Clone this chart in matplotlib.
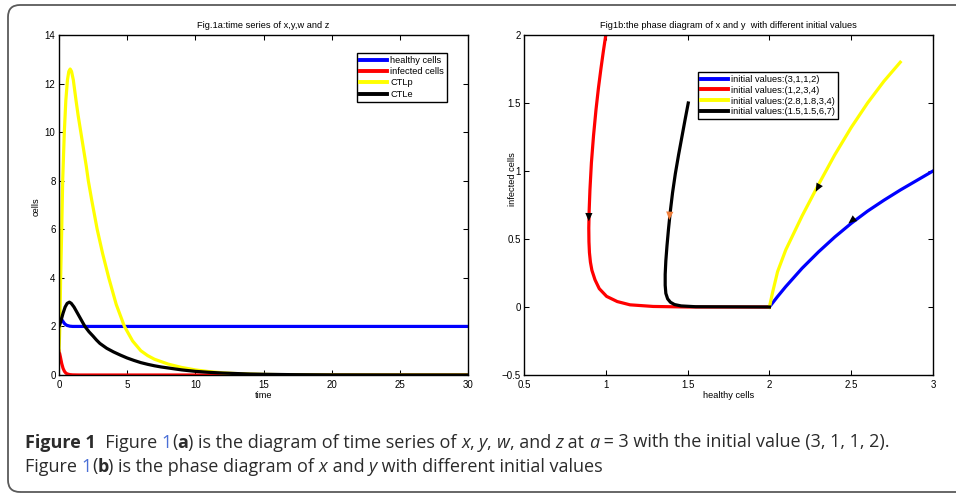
import matplotlib
matplotlib.use("Agg")
import matplotlib.pyplot as plt
from matplotlib.patches import FancyArrowPatch, FancyBboxPatch
from matplotlib.transforms import IdentityTransform
from matplotlib import font_manager

# ---------------- data ----------------
# Fig 1a: time series
t_healthy = [0, 0.05, 0.1, 0.15, 0.2, 0.3, 0.4, 0.5, 0.6, 0.8, 1.0, 1.5, 30]
healthy = [2.0, 2.2, 2.3, 2.31, 2.28, 2.2, 2.12, 2.07, 2.04, 2.01, 2.0, 2.0, 2.0]

t_infected = [0, 0.05, 0.1, 0.2, 0.3, 0.4, 0.5, 0.6, 0.8, 1.0, 1.5, 30]
infected = [1.0, 0.88, 0.75, 0.47, 0.27, 0.15, 0.08, 0.045, 0.015, 0.005, 0.0, 0.0]

t_ctlp = [0, 0.04, 0.07, 0.12, 0.2, 0.27, 0.39, 0.5, 0.62, 0.72, 0.82, 0.92, 1.05,
          1.25, 1.4, 1.6, 1.8, 2.0, 2.15, 2.4, 2.8, 3.2, 3.65, 4.2, 4.8, 5.4, 6.0,
          6.5, 7.0, 8.0, 9.0, 10.0, 11.0, 12.0, 13.0, 14.0, 15.0, 17.0, 20.0, 30.0]
ctlp = [1.0, 1.6, 2.2, 4.0, 6.0, 8.0, 10.0, 11.3, 12.15, 12.5, 12.6, 12.5, 12.15,
        11.3, 10.7, 10.0, 9.3, 8.6, 8.0, 7.2, 6.0, 5.0, 4.0, 2.9, 2.0, 1.4, 1.0,
        0.8, 0.65, 0.45, 0.31, 0.21, 0.14, 0.09, 0.06, 0.04, 0.025, 0.01, 0.003, 0.0]

t_ctle = [0, 0.1, 0.2, 0.3, 0.45, 0.6, 0.76, 0.9, 1.1, 1.4, 1.9, 2.2, 2.5, 2.75, 3.0,
          3.5, 4.0, 4.5, 5.0, 5.5, 6.0, 6.5, 7.0, 7.5, 8.0, 9.0, 10.0, 11.0, 12.0,
          13.0, 14.0, 15.0, 17.0, 20.0, 25.0, 30.0]
ctle = [2.0, 2.15, 2.35, 2.55, 2.8, 2.95, 3.0, 2.95, 2.8, 2.5, 2.0, 1.78, 1.6, 1.44,
        1.3, 1.1, 0.95, 0.82, 0.7, 0.6, 0.51, 0.44, 0.38, 0.33, 0.29, 0.21, 0.15,
        0.11, 0.08, 0.06, 0.04, 0.03, 0.015, 0.005, 0.001, 0.0]

ts_labels = ["healthy cells", "infected cells", "CTLp", "CTLe"]

# Fig 1b: phase diagram (x = healthy, y = infected)
ph_blue_x = [3.0, 2.9, 2.8, 2.7, 2.6, 2.5, 2.4, 2.3, 2.2, 2.1, 2.05, 2.0]
ph_blue_y = [1.0, 0.93, 0.86, 0.785, 0.705, 0.615, 0.515, 0.405, 0.285, 0.15, 0.077, 0.0]

ph_red_x = [1.0, 0.985, 0.97, 0.955, 0.94, 0.925, 0.912, 0.903, 0.898, 0.896, 0.897,
            0.9, 0.906, 0.915, 0.934, 0.96, 1.005, 1.07, 1.148, 1.29, 1.5, 2.0]
ph_red_y = [2.0, 1.88, 1.75, 1.61, 1.45, 1.26, 1.06, 0.86, 0.7, 0.58, 0.48, 0.4,
            0.33, 0.27, 0.2, 0.135, 0.078, 0.04, 0.016, 0.004, 0.0, 0.0]

ph_yellow_x = [2.8, 2.7, 2.6, 2.5, 2.4, 2.3, 2.2, 2.1, 2.05, 2.02, 2.0]
ph_yellow_y = [1.8, 1.66, 1.5, 1.32, 1.12, 0.9, 0.67, 0.42, 0.26, 0.11, 0.0]

ph_black_x = [1.504, 1.485, 1.465, 1.445, 1.425, 1.408, 1.394, 1.383, 1.374, 1.367,
              1.363, 1.363, 1.367, 1.378, 1.395, 1.42, 1.46, 1.55, 2.0]
ph_black_y = [1.5, 1.38, 1.25, 1.12, 0.98, 0.84, 0.7, 0.57, 0.45, 0.34, 0.24, 0.16,
              0.1, 0.06, 0.035, 0.018, 0.008, 0.002, 0.0]

ph_labels = ["initial values:(3,1,1,2)", "initial values:(1,2,3,4)",
             "initial values:(2.8,1.8,3,4)", "initial values:(1.5,1.5,6,7)"]

# direction arrows on the trajectories: (tail, tip, colour)
arrow_tails = [(0.897, 0.75), (1.395, 0.78), (2.318, 0.925), (2.535, 0.665)]
arrow_tips = [(0.896, 0.63), (1.388, 0.64), (2.283, 0.848), (2.483, 0.615)]
arrow_colors = ["black", "#f07f3c", "black", "black"]

# ---------------- style ----------------
avail = {f.name for f in font_manager.fontManager.ttflist}
axfont = "Liberation Sans" if "Liberation Sans" in avail else "DejaVu Sans"
capfont = "Open Sans" if "Open Sans" in avail else axfont
plt.rcParams["font.family"] = [axfont, "DejaVu Sans"]
plt.rcParams["font.size"] = 6.7
plt.rcParams["axes.linewidth"] = 1.0

W, H = 956, 495
fig = plt.figure(figsize=(W / 100, H / 100), dpi=100)

def px_axes(x0, y0, x1, y1):
    return fig.add_axes([x0 / W, 1 - y1 / H, (x1 - x0) / W, (y1 - y0) / H])

def style(ax):
    ax.tick_params(direction="in", length=3.6, width=0.75, top=True, right=True,
                   labelsize=7.0, pad=3.5)
    ax.tick_params(axis="y", pad=2.5)

TXT = 6.7
lw = 2.3
# ---- left ----
ax1 = px_axes(59, 35, 468, 375)
ax1.plot(t_healthy, healthy, color="blue", lw=lw, label=ts_labels[0])
ax1.plot(t_infected, infected, color="red", lw=lw, label=ts_labels[1])
ax1.plot(t_ctlp, ctlp, color="yellow", lw=lw, label=ts_labels[2])
ax1.plot(t_ctle, ctle, color="black", lw=lw, label=ts_labels[3])
ax1.set_xlim(0, 30)
ax1.set_ylim(0, 14)
ax1.set_xticks(range(0, 31, 5))
ax1.set_yticks(range(0, 15, 2))
style(ax1)
ax1.set_title("Fig.1a:time series of x,y,w and z", fontsize=TXT, pad=4.8)
ax1.set_xlabel("time", fontsize=TXT)
ax1.set_ylabel("cells", fontsize=TXT)
ax1.xaxis.set_label_coords(0.5, -0.047)
ax1.yaxis.set_label_coords(-0.044, 0.494)
leg1 = ax1.legend(loc="upper right", bbox_to_anchor=(0.9487, 0.947), borderaxespad=0,
                  fancybox=False, framealpha=1, edgecolor="black", fontsize=TXT,
                  handlelength=2.9, handletextpad=0.35, labelspacing=0.25, borderpad=0.3)
leg1.get_frame().set_linewidth(1.0)
for l in leg1.get_lines():
    l.set_linewidth(2.8)

# ---- right ----
ax2 = px_axes(524, 35, 933, 375)
ax2.plot(ph_blue_x, ph_blue_y, color="blue", lw=lw, label=ph_labels[0])
ax2.plot(ph_red_x, ph_red_y, color="red", lw=lw, label=ph_labels[1])
ax2.plot(ph_yellow_x, ph_yellow_y, color="yellow", lw=lw, label=ph_labels[2])
ax2.plot(ph_black_x, ph_black_y, color="black", lw=lw, label=ph_labels[3])
for (ta, tb, c) in zip(arrow_tails, arrow_tips, arrow_colors):
    ar = FancyArrowPatch(ta, tb, arrowstyle="-|>,head_length=6,head_width=2.6",
                         color=c, lw=0, shrinkA=0, shrinkB=0, zorder=5)
    ax2.add_patch(ar)
ax2.set_xlim(0.5, 3)
ax2.set_ylim(-0.5, 2)
ax2.set_xticks([0.5, 1, 1.5, 2, 2.5, 3])
ax2.set_xticklabels(["0.5", "1", "1.5", "2", "2.5", "3"])
ax2.set_yticks([-0.5, 0, 0.5, 1, 1.5, 2])
ax2.set_yticklabels(["\u22120.5", "0", "0.5", "1", "1.5", "2"])
style(ax2)
ax2.set_title("Fig1b:the phase diagram of x and y  with different initial values",
              fontsize=TXT, pad=4.8)
ax2.set_xlabel("healthy cells", fontsize=TXT)
ax2.set_ylabel("infected cells", fontsize=TXT)
ax2.xaxis.set_label_coords(0.5, -0.047)
ax2.yaxis.set_label_coords(-0.017, 0.576)
leg2 = ax2.legend(loc="upper left", bbox_to_anchor=(0.4254, 0.891), borderaxespad=0,
                  fancybox=False, framealpha=1, edgecolor="black", fontsize=TXT,
                  handlelength=2.9, handletextpad=0.35, labelspacing=0.2, borderpad=0.3)
leg2.get_frame().set_linewidth(1.0)
for l in leg2.get_lines():
    l.set_linewidth(2.8)

# ---- outer rounded frame ----
frame = FancyBboxPatch((8, 3), 1000, H - 8, boxstyle="round,pad=0,rounding_size=12",
                       transform=IdentityTransform(), fill=False, edgecolor="#5a5a5a",
                       lw=1.3, figure=fig)
fig.patches.append(frame)

# ---- caption ----
renderer = fig.canvas.get_renderer()
cap_col = "#2b2b2b"
link_col = "#4a6fd6"

def width_of(s, size, **kw):
    t1 = fig.text(0, 0, s + "|", fontsize=size, family=capfont, **kw)
    t2 = fig.text(0, 0, "|", fontsize=size, family=capfont, **kw)
    w = t1.get_window_extent(renderer).width - t2.get_window_extent(renderer).width
    t1.remove(); t2.remove()
    return w

def runs_width(runs, size):
    return sum(width_of(s, size, **{k: v for k, v in kw.items() if k != "color"})
               for s, kw in runs)

def draw_runs(x_px, base_px, runs, size):
    x = x_px
    for s, kw in runs:
        kw2 = dict(kw)
        kw2.setdefault("color", cap_col)
        fig.text(x / W, 1 - base_px / H, s, fontsize=size, family=capfont,
                 va="baseline", ha="left", **kw2)
        x += width_of(s, size, **{k: v for k, v in kw2.items() if k != "color"})

R = {}
B = {"fontweight": "bold"}
I = {"fontstyle": "italic"}
L = {"color": link_col}
line1 = [("Figure 1", B), ("  Figure ", R), ("1", L), ("(", R), ("a", B),
         (") is the diagram of time series of ", R), ("x", I), (", ", R), ("y", I),
         (", ", R), ("w", I), (", and ", R), ("z", I), (" at ", R), ("a", I),
         (" = 3 with the initial value (3, 1, 1, 2).", R)]
line2 = [("Figure ", R), ("1", L), ("(", R), ("b", B),
         (") is the phase diagram of ", R), ("x", I), (" and ", R), ("y", I),
         (" with different initial values", R)]
size0 = 11.0
cap_size = size0 * (897 - 25) / runs_width(line1, size0)
draw_runs(25, 447.5, line1, cap_size)
draw_runs(25, 471.5, line2, cap_size)

fig.savefig("out.png", dpi=100)
